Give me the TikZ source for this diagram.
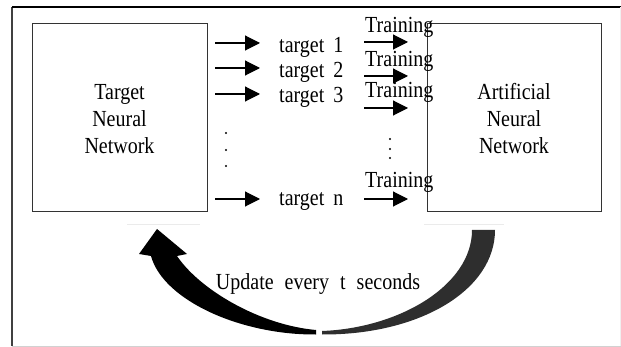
\documentclass[tikz,border=0pt]{standalone}
\usepackage{fontspec}
\setmainfont{Liberation Serif}
\usetikzlibrary{arrows.meta}
\newcommand\dgfont{\fontsize{20}{27}\selectfont\spaceskip=0.45em\relax}
\newcommand\updfont{\fontsize{20}{27}\selectfont\spaceskip=0.55em\relax}
\newcommand\vst[1]{\scalebox{1}[1.15]{#1}}
\begin{document}
\begin{tikzpicture}[x=1pt,y=-1pt,
  netbox/.style={draw=black!80,line width=1pt},
  lbl/.style={font=\dgfont,inner sep=0pt,anchor=base west},
  boxtext/.style={font=\dgfont,inner sep=0pt,align=center},
  arr/.style={line width=1.1pt,-{Triangle[length=15pt,width=15pt]}},
  dotmark/.style={fill=black,draw=none},
  faint/.style={draw=black!8,line width=0.8pt}]
\useasboundingbox (0,0) rectangle (621,347);
% outer frame
\draw[black!75,line width=1.4pt] (12,346) -- (12,7);
\draw[black,line width=1.2pt] (12,7) -- (621,7);
\draw[black!18,line width=1pt] (12,346) -- (621,346);
\draw[black!6,line width=1pt] (620,7) -- (620,346);
% boxes
\node[netbox,minimum width=175pt,minimum height=188pt,inner sep=0pt] (tnn) at (119.5,118) {};
\node[netbox,minimum width=174pt,minimum height=188pt,inner sep=0pt] (ann) at (514,118) {};
\node[boxtext] (tnnt) at (119.5,119) {\vst{Target}\\\vst{Neural}\\\vst{Network}};
\node[boxtext] (annt) at (514,119) {\vst{Artificial}\\\vst{Neural}\\\vst{Network}};
% target labels
\node[lbl] (t1) at (279,52.5) {\vst{target 1}};
\node[lbl] (t2) at (279,77.5) {\vst{target 2}};
\node[lbl] (t3) at (279,103) {\vst{target 3}};
\node[lbl] (tn) at (279,206) {\vst{target n}};
% training labels
\node[lbl] (r1) at (365,33) {\vst{Training}};
\node[lbl] (r2) at (365,67) {\vst{Training}};
\node[lbl] (r3) at (365,97.5) {\vst{Training}};
\node[lbl] (rn) at (365,188) {\vst{Training}};
% arrow end points
\coordinate (a1s) at (215,43);  \coordinate (a1e) at (260,43);
\coordinate (a2s) at (215,68);  \coordinate (a2e) at (260,68);
\coordinate (a3s) at (215,94);  \coordinate (a3e) at (260,94);
\coordinate (ans) at (215,199); \coordinate (ane) at (260,199);
\coordinate (b1s) at (364,42);  \coordinate (b1e) at (408,42);
\coordinate (b2s) at (364,76);  \coordinate (b2e) at (408,76);
\coordinate (b3s) at (364,108); \coordinate (b3e) at (408,108);
\coordinate (bns) at (364,199); \coordinate (bne) at (408,199);
\foreach \p in {a1,a2,a3,an,b1,b2,b3,bn}{\draw[arr] (\p s) -- (\p e);}
% dots
\foreach \y in {133,150,166}{\fill[dotmark] (226,\y) circle (1.2pt);}
\foreach \y in {139,149,158}{\fill[dotmark] (390,\y) circle (1.1pt);}
% faint image edge lines
\draw[faint] (127,224) -- (200,224);
\draw[faint] (424,224) -- (504,224);
% curved update arrow
\fill[black] (139,254) -- (157,229) -- (187,254) -- (177,256)
  .. controls (200,290) and (260,325) .. (316,330)
  -- (316,334.5)
  .. controls (240,335) and (163,300) .. (151,256) -- cycle;
\fill[black!82] (472,230) -- (495,230)
  .. controls (495,290) and (420,335) .. (322,334.5)
  -- (322,331)
  .. controls (400,328) and (472,285) .. (472,230) -- cycle;
\node[font=\updfont,inner sep=0pt,anchor=base] (upd) at (318,290) {\vst{Update every t seconds}};
\end{tikzpicture}
\end{document}
